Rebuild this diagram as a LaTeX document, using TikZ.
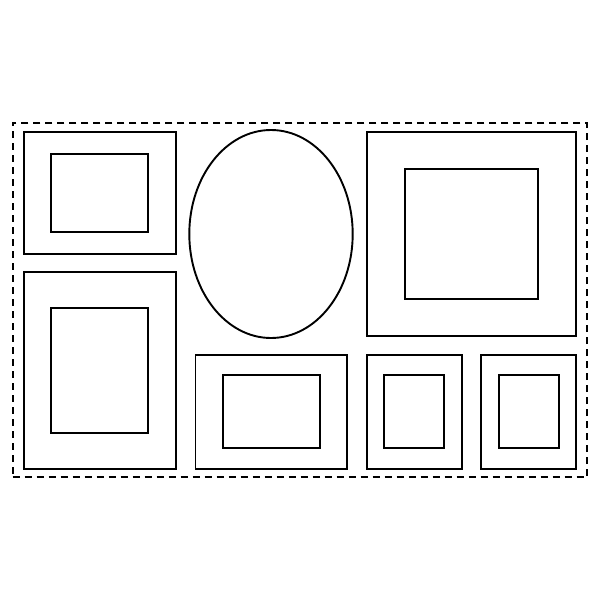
\documentclass[tikz,border=0pt]{standalone}
\usetikzlibrary{shapes.geometric}
\begin{document}
\begin{tikzpicture}[x=1pt,y=-1pt,
  framebox/.style={draw=black,line width=1.9pt,rectangle,inner sep=0pt,outer sep=0pt},
  ovalbox/.style={draw=black,line width=1.9pt,ellipse,inner sep=0pt,outer sep=0pt},
  wallbox/.style={draw=black,line width=2pt,dash pattern=on 7pt off 5pt,rectangle,inner sep=0pt}]
\useasboundingbox (0,0) rectangle (600,600);
\node[wallbox,minimum width=574.8pt,minimum height=354.3pt] (wall) at (299.9,300.2) {};
% frame 1
\node[framebox,minimum width=152pt,minimum height=122pt] (f1o) at (99.7,193.3) {};
\node[framebox,minimum width=96.7pt,minimum height=78pt] (f1i) at (99.7,193) {};
% frame 2
\node[framebox,minimum width=152pt,minimum height=197.6pt] (f2o) at (99.7,370.5) {};
\node[framebox,minimum width=96.7pt,minimum height=125.6pt] (f2i) at (99.7,370.5) {};
% oval
\node[ovalbox,minimum width=163.4pt,minimum height=208pt] (oval) at (271,234) {};
% frame 4
\node[framebox,minimum width=209.3pt,minimum height=203.7pt] (f4o) at (471.3,234.2) {};
\node[framebox,minimum width=133.3pt,minimum height=129.7pt] (f4i) at (471.3,234.2) {};
% frame 5
\node[framebox,minimum width=151.8pt,minimum height=114.6pt] (f5o) at (271.4,412) {};
\node[framebox,minimum width=97pt,minimum height=73pt] (f5i) at (271.5,411.8) {};
% frame 6
\node[framebox,minimum width=94.7pt,minimum height=114.8pt] (f6o) at (414.3,412) {};
\node[framebox,minimum width=60.6pt,minimum height=73.3pt] (f6i) at (414,411.7) {};
% frame 7
\node[framebox,minimum width=94.7pt,minimum height=114.8pt] (f7o) at (528.7,412) {};
\node[framebox,minimum width=60.6pt,minimum height=73.3pt] (f7i) at (529,411.7) {};
\end{tikzpicture}
\end{document}
